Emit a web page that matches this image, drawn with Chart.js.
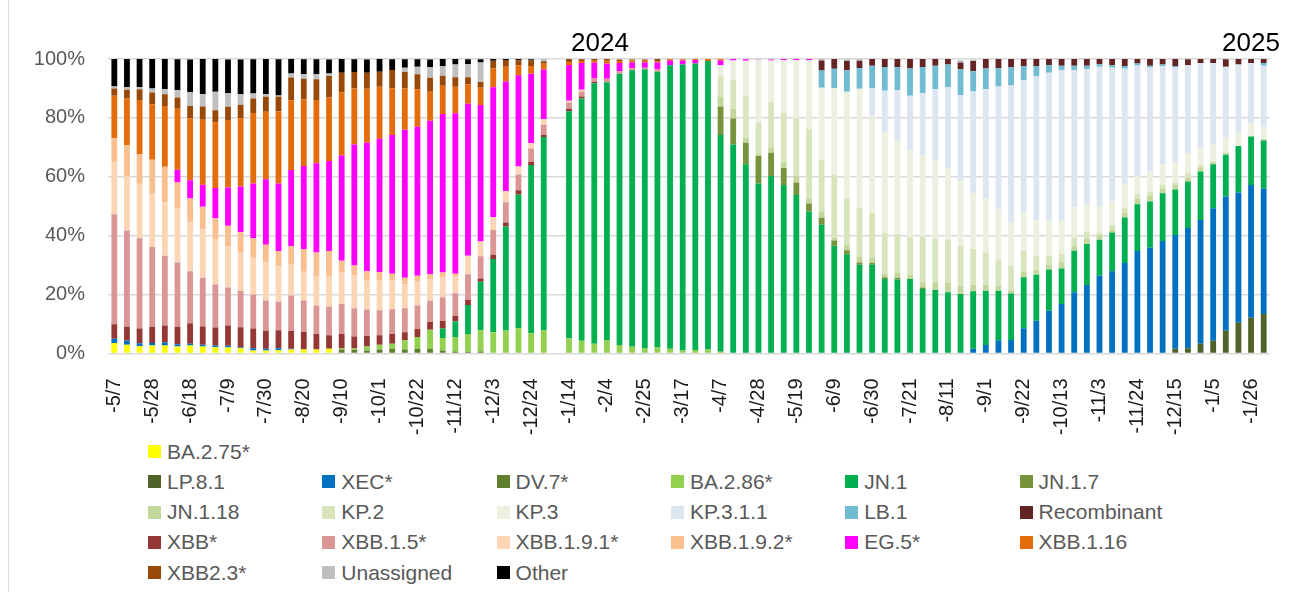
<!DOCTYPE html>
<html lang="en">
<head>
    <meta charset="UTF-8">
    <title>Variant proportions by week</title>
    <style>
        body {
            margin: 0;
            background: #fff;
            font-family: 'Liberation Sans', Arial, sans-serif;
        }

        .wrap {
            position: relative;
            width: 1293px;
            height: 592px;
            overflow: hidden;
        }

        #chart {
            position: absolute;
            left: 0;
            top: 0;
        }

        .frame {
            position: absolute;
            left: 8px;
            top: 0;
            height: 592px;
            border-left: 1px solid #d9d9d9;
        }

        .year {
            position: absolute;
            top: 27px;
            font-size: 26px;
            line-height: 30px;
            color: #000;
            transform: translateX(-50%);
        }

        .lg-box {
            position: absolute;
            width: 13px;
            height: 13px;
        }

        .lg-text {
            position: absolute;
            font-size: 21px;
            line-height: 24px;
            color: #595959;
            white-space: nowrap;
        }
    </style>
</head>
<body>
    <div class="wrap">
        <div class="frame"></div>
        <canvas id="chart" width="1293" height="440"></canvas>
        <div class="year" style="left:600px">2024</div>
        <div class="year" style="left:1251px">2025</div>
        <div id="legend"></div>
    </div>

    <script src="https://cdn.jsdelivr.net/npm/chart.js"></script>
    <script>
        // week starting dates, 5/7/2023 .. 2/2/2025 (1/7/2024 has no data)
        const weeks = [
            '-5/7', '-5/14', '-5/21', '-5/28', '-6/4', '-6/11', '-6/18', '-6/25', '-7/2', '-7/9',
            '-7/16', '-7/23', '-7/30', '-8/6', '-8/13', '-8/20', '-8/27', '-9/3', '-9/10', '-9/17',
            '-9/24', '-10/1', '-10/8', '-10/15', '-10/22', '-10/29', '-11/5', '-11/12', '-11/19', '-11/26',
            '-12/3', '-12/10', '-12/17', '-12/24', '-12/31', '-1/7', '-1/14', '-1/21', '-1/28', '-2/4',
            '-2/11', '-2/18', '-2/25', '-3/3', '-3/10', '-3/17', '-3/24', '-3/31', '-4/7', '-4/14',
            '-4/21', '-4/28', '-5/5', '-5/12', '-5/19', '-5/26', '-6/2', '-6/9', '-6/16', '-6/23',
            '-6/30', '-7/7', '-7/14', '-7/21', '-7/28', '-8/4', '-8/11', '-8/18', '-8/25', '-9/1',
            '-9/8', '-9/15', '-9/22', '-9/29', '-10/6', '-10/13', '-10/20', '-10/27', '-11/3', '-11/10',
            '-11/17', '-11/24', '-12/1', '-12/8', '-12/15', '-12/22', '-12/29', '-1/5', '-1/12', '-1/19',
            '-1/26', '-2/2'
        ];
        const tickEvery = 3;
        const yTicks = [0, 20, 40, 60, 80, 100];

        // share of sequences, percent
        const ba275 = [
            3.6, 3.0, 2.5, 2.7, 2.7, 2.4, 2.7, 2.4, 2.1, 2.0,
            1.8, 1.0, 1.0, 1.1, 1.4, 1.4, 1.4, 1.6, 0, 0,
            0, 0, 0, 0, 0, 0, 0, 0, 0, 0,
            0, 0, 0, 0, 0, null, 0, 0, 0, 0,
            0, 0, 0, 0, 0, 0, 0, 0, 0, 0,
            0, 0, 0, 0, 0, 0, 0, 0, 0, 0,
            0, 0, 0, 0, 0, 0, 0, 0, 0, 0,
            0, 0, 0, 0, 0, 0, 0, 0, 0, 0,
            0, 0, 0, 0, 0, 0, 0, 0, 0, 0,
            0, 0
        ];
        const lp81 = [
            0, 0, 0, 0, 0, 0, 0, 0, 0, 0,
            0, 0, 0, 0, 0, 0, 0, 0, 0, 0,
            0, 0, 0, 0, 0, 0, 0, 0, 0, 0,
            0, 0, 0, 0, 0, null, 0, 0, 0, 0,
            0, 0, 0, 0, 0, 0, 0, 0, 0, 0,
            0, 0, 0, 0, 0, 0, 0, 0, 0, 0,
            0, 0, 0, 0, 0, 0, 0, 0, 0, 0,
            0, 0, 0, 0, 0, 0, 0, 0, 0, 0,
            0, 0, 0, 0, 1.6, 1.8, 3.3, 4.3, 7.7, 10.4,
            12.1, 13.4
        ];
        const xec = [
            1.4, 1.4, 1.0, 0.9, 1.0, 0.7, 0.6, 0.6, 0.6, 0.6,
            0.3, 0.8, 0.6, 0.7, 0.2, 0, 0, 0, 0, 0,
            0, 0, 0, 0, 0, 0, 0, 0, 0, 0,
            0, 0, 0, 0, 0, null, 0, 0, 0, 0,
            0, 0, 0, 0, 0, 0, 0, 0, 0, 0,
            0, 0, 0, 0, 0, 0, 0, 0, 0, 0,
            0, 0, 0, 0, 0, 0, 0, 0, 1.6, 2.9,
            4.5, 4.6, 8.6, 11.1, 14.5, 16.8, 20.8, 23.3, 26.4, 27.9,
            30.7, 34.8, 35.9, 38.2, 38.6, 40.8, 42.0, 45.0, 45.6, 44.3,
            45.1, 42.6
        ];
        const dv7 = [
            0, 0, 0, 0, 0, 0, 0, 0, 0, 0,
            0, 0, 0, 0, 0, 0, 0, 0, 1.4, 1.2,
            1.0, 1.4, 1.5, 1.4, 1.5, 1.5, 1.0, 0.7, 0.6, 0.7,
            0, 0, 0, 0, 0, null, 0, 0, 0, 0,
            0, 0, 0, 0, 0, 0, 0, 0, 0, 0,
            0, 0, 0, 0, 0, 0, 0, 0, 0, 0,
            0, 0, 0, 0, 0, 0, 0, 0, 0, 0,
            0, 0, 0, 0, 0, 0, 0, 0, 0, 0,
            0, 0, 0, 0, 0, 0, 0, 0, 0, 0,
            0, 0
        ];
        const ba286 = [
            0, 0, 0, 0, 0, 0, 0, 0, 0, 0,
            0, 0, 0, 0, 0, 0, 0, 0, 0.5, 0.5,
            1.4, 1.6, 1.8, 3.1, 4.1, 6.6, 4.3, 4.9, 6.0, 7.2,
            7.2, 7.8, 8.6, 6.9, 7.9, null, 5.2, 4.3, 3.3, 4.5,
            2.9, 2.3, 1.9, 2.0, 1.6, 1.0, 1.2, 1.4, 0.6, 0,
            0, 0, 0, 0, 0, 0, 0, 0, 0, 0,
            0, 0, 0, 0, 0, 0, 0, 0, 0, 0,
            0, 0, 0, 0, 0, 0, 0, 0, 0, 0,
            0, 0, 0, 0, 0, 0, 0, 0, 0, 0,
            0, 0
        ];
        const jn1 = [
            0, 0, 0, 0, 0, 0, 0, 0, 0, 0,
            0, 0, 0, 0, 0, 0, 0, 0, 0, 0,
            0, 0, 0, 0, 0, 0, 3.2, 5.3, 9.9, 16.5,
            24.9, 35.3, 45.4, 57.1, 65.6, null, 77.1, 82.3, 88.5, 87.6,
            92.1, 93.9, 94.6, 93.7, 96.3, 97.1, 97.3, 97.9, 73.6, 71.0,
            64.3, 57.7, 60.3, 57.2, 53.8, 48.2, 43.7, 36.6, 33.7, 30.1,
            30.1, 25.3, 25.1, 25.3, 21.9, 21.6, 20.8, 20.2, 19.5, 18.4,
            16.8, 15.8, 17.3, 15.6, 14.0, 12.1, 14.1, 13.9, 12.2, 13.2,
            15.5, 15.9, 15.7, 16.2, 15.5, 15.8, 16.5, 15.0, 14.2, 15.8,
            16.5, 16.3
        ];
        const jn17 = [
            0, 0, 0, 0, 0, 0, 0, 0, 0, 0,
            0, 0, 0, 0, 0, 0, 0, 0, 0, 0,
            0, 0, 0, 0, 0, 0, 0, 0, 0, 0,
            0, 0, 0, 0, 0, null, 0, 0, 0, 0,
            0, 0, 0, 0, 0, 0, 0, 0, 9.7, 8.8,
            7.3, 9.4, 7.9, 5.8, 4.3, 2.7, 2.4, 1.8, 1.4, 0.8,
            0.6, 0.6, 0.5, 0, 0.5, 0, 0, 0, 0, 0,
            0, 0, 0, 0, 0, 0, 0, 0, 0, 0,
            0, 0, 0, 0, 0, 0, 0, 0, 0, 0,
            0, 0
        ];
        const jn118 = [
            0, 0, 0, 0, 0, 0, 0, 0, 0, 0,
            0, 0, 0, 0, 0, 0, 0, 0, 0, 0,
            0, 0, 0, 0, 0, 0, 0, 0, 0, 0,
            0, 0, 0, 0, 0, null, 0, 0, 0, 0,
            0, 0, 0, 0, 0, 0, 0, 0, 3.4, 3.2,
            1.6, 0.8, 1.6, 1.9, 2.3, 1.8, 2.1, 1.0, 1.9, 2.1,
            1.9, 1.2, 1.7, 1.5, 1.8, 2.3, 3.1, 2.8, 2.3, 2.0,
            1.7, 1.1, 2.0, 1.7, 1.6, 2.3, 1.7, 1.7, 1.6, 1.1,
            1.7, 1.9, 1.9, 1.7, 1.5, 1.4, 1.4, 0.8, 0.7, 0,
            0, 0.5
        ];
        const kp2 = [
            0, 0, 0, 0, 0, 0, 0, 0, 0, 0,
            0, 0, 0, 0, 0, 0, 0, 0, 0, 0,
            0, 0, 0, 0, 0, 0, 0, 0, 0, 0,
            0, 0, 0, 0, 0, null, 0, 0, 0, 0,
            0, 0, 0, 0, 0, 0, 0, 0, 6.8, 9.9,
            14.2, 10.5, 15.6, 16.7, 19.4, 23.6, 17.5, 21.4, 15.7, 16.6,
            15.1, 13.8, 13.2, 12.7, 15.5, 15.0, 14.8, 13.6, 12.1, 11.0,
            9.0, 8.2, 6.9, 4.6, 3.2, 2.6, 2.8, 2.5, 0.9, 1.5,
            1.7, 1.5, 1.4, 1.1, 0.9, 1.4, 0.9, 0, 0, 0,
            0, 0
        ];
        const kp3 = [
            0, 0, 0, 0, 0, 0, 0, 0, 0, 0,
            0, 0, 0, 0, 0, 0, 0, 0, 0, 0,
            0, 0, 0, 0, 0, 0, 0, 0, 0, 0,
            0, 0, 0, 0, 0, null, 0, 0, 0, 0,
            0, 0, 0, 0, 0, 0, 0, 0, 3.8, 6.6,
            12.0, 21.4, 14.1, 18.0, 19.8, 23.4, 24.5, 29.3, 36.2, 40.3,
            33.0, 34.4, 31.6, 29.6, 27.7, 26.6, 24.0, 21.8, 18.9, 18.3,
            16.9, 14.7, 13.1, 12.3, 11.9, 11.3, 10.2, 9.4, 8.7, 7.8,
            7.9, 6.2, 6.9, 7.1, 6.8, 6.9, 5.9, 5.8, 5.1, 4.7,
            4.4, 4.2
        ];
        const kp311 = [
            0, 0, 0, 0, 0, 0, 0, 0, 0, 0,
            0, 0, 0, 0, 0, 0, 0, 0, 0, 0,
            0, 0, 0, 0, 0, 0, 0, 0, 0, 0,
            0, 0, 0, 0, 0, null, 0, 0, 0, 0,
            0, 0, 0, 0, 0, 0, 0, 0, 0, 0,
            0, 0, 0, 0, 0, 0, 0, 0, 0, 0,
            9.4, 13.9, 17.3, 18.4, 21.0, 24.3, 27.7, 29.4, 34.6, 37.1,
            41.8, 46.6, 45.0, 48.9, 50.1, 51.2, 46.7, 45.8, 47.6, 45.5,
            39.2, 37.5, 35.3, 33.3, 32.2, 29.8, 28.6, 27.7, 24.1, 22.9,
            20.5, 20.7
        ];
        const lb1 = [
            0, 0, 0, 0, 0, 0, 0, 0, 0, 0,
            0, 0, 0, 0, 0, 0, 0, 0, 0, 0,
            0, 0, 0, 0, 0, 0, 0, 0, 0, 0,
            0, 0, 0, 0, 0, null, 0, 0, 0, 0,
            0, 0, 0, 0, 0, 0, 0, 0, 0, 0,
            0, 0, 0, 0, 0, 0, 5.9, 6.6, 7.3, 7.0,
            7.6, 8.1, 7.8, 9.3, 8.9, 7.9, 7.7, 8.7, 6.8, 7.1,
            6.2, 6.2, 4.7, 3.4, 2.7, 1.4, 1.4, 1.1, 0.8, 0.9,
            0.9, 0.7, 0.6, 0.5, 0.5, 0, 0, 0, 0, 0,
            0, 0.9
        ];
        const recombinant = [
            0, 0, 0, 0, 0, 0, 0, 0, 0, 0,
            0, 0, 0, 0, 0, 0, 0, 0, 0, 0,
            0, 0, 0, 0, 0, 0, 0, 0, 0, 0,
            0, 0, 0, 0, 0, null, 0, 0, 0, 0,
            0, 0, 0, 0, 0, 0, 0, 0, 0, 0,
            0, 0, 0, 0, 0, 0, 3.4, 3.3, 3.1, 2.5,
            2.3, 2.7, 2.8, 3.2, 2.7, 2.3, 1.9, 2.3, 3.5, 3.2,
            3.1, 2.8, 2.4, 2.4, 2.0, 2.3, 2.3, 2.3, 1.8, 2.1,
            2.4, 1.5, 2.3, 1.9, 2.4, 2.0, 1.4, 1.4, 2.5, 1.9,
            1.4, 1.4
        ];
        const xbb = [
            4.9, 4.7, 5.0, 5.5, 5.8, 5.9, 7.0, 6.2, 6.1, 6.9,
            6.8, 6.7, 6.1, 6.1, 6.0, 5.9, 5.2, 4.6, 4.7, 4.1,
            3.5, 3.2, 3.3, 2.7, 2.7, 2.6, 2.5, 1.8, 1.7, 1.1,
            1.4, 1.4, 1.4, 1.1, 0.8, null, 0.8, 0.7, 0.4, 0,
            0, 0, 0, 0, 0, 0, 0, 0, 0, 0,
            0, 0, 0, 0, 0, 0, 0, 0, 0, 0,
            0, 0, 0, 0, 0, 0, 0, 0, 0, 0,
            0, 0, 0, 0, 0, 0, 0, 0, 0, 0,
            0, 0, 0, 0, 0, 0, 0, 0, 0, 0,
            0, 0
        ];
        const xbb15 = [
            37.4, 32.7, 30.6, 27.1, 23.7, 21.9, 17.6, 16.5, 14.6, 12.9,
            12.4, 11.5, 10.3, 9.7, 12.1, 10.7, 9.7, 9.7, 10.2, 9.6,
            9.0, 8.5, 8.4, 8.2, 8.0, 7.2, 8.1, 7.8, 8.7, 7.5,
            8.4, 6.9, 5.4, 4.5, 3.4, null, 2.1, 1.7, 1.2, 1.2,
            0.8, 0.7, 0.5, 0.8, 0, 0, 0, 0, 0, 0,
            0, 0, 0, 0, 0, 0, 0, 0, 0, 0,
            0, 0, 0, 0, 0, 0, 0, 0, 0, 0,
            0, 0, 0, 0, 0, 0, 0, 0, 0, 0,
            0, 0, 0, 0, 0, 0, 0, 0, 0, 0,
            0, 0
        ];
        const xbb191 = [
            17.6, 18.5, 18.5, 18.3, 18.1, 18.3, 16.6, 16.5, 15.5, 13.9,
            12.9, 12.5, 12.9, 12.0, 10.5, 9.8, 9.8, 10.2, 10.7, 11.1,
            9.8, 10.2, 9.8, 8.0, 8.1, 7.2, 6.8, 5.8, 6.1, 5.0,
            4.4, 3.7, 2.7, 1.8, 1.8, null, 0.6, 0.6, 0, 0,
            0, 0, 0, 0, 0, 0, 0, 0, 0, 0,
            0, 0, 0, 0, 0, 0, 0, 0, 0, 0,
            0, 0, 0, 0, 0, 0, 0, 0, 0, 0,
            0, 0, 0, 0, 0, 0, 0, 0, 0, 0,
            0, 0, 0, 0, 0, 0, 0, 0, 0, 0,
            0, 0
        ];
        const xbb192 = [
            8.2, 10.5, 10.1, 11.3, 12.1, 8.9, 8.1, 7.6, 7.0, 7.1,
            7.0, 6.6, 6.0, 5.2, 6.2, 7.7, 8.2, 8.7, 4.0, 3.4,
            3.2, 2.8, 2.3, 2.3, 2.0, 1.9, 1.6, 0.8, 0.2, 0,
            0, 0, 0, 0, 0, null, 0, 0, 0, 0,
            0, 0, 0, 0, 0, 0, 0, 0, 0, 0,
            0, 0, 0, 0, 0, 0, 0, 0, 0, 0,
            0, 0, 0, 0, 0, 0, 0, 0, 0, 0,
            0, 0, 0, 0, 0, 0, 0, 0, 0, 0,
            0, 0, 0, 0, 0, 0, 0, 0, 0, 0,
            0, 0
        ];
        const eg5 = [
            0, 0, 0, 0, 0, 4.3, 6.2, 7.5, 10.3, 13.0,
            15.5, 18.6, 22.3, 22.9, 25.9, 28.2, 30.3, 30.6, 35.7, 41.1,
            43.7, 45.2, 47.1, 50.3, 50.6, 52.0, 53.8, 54.5, 51.6, 46.4,
            44.1, 37.3, 31.0, 23.6, 16.9, null, 12.2, 9.0, 5.3, 5.1,
            2.8, 1.9, 1.8, 2.3, 1.6, 1.4, 1.2, 0, 1.6, 0.5,
            0.5, 0.2, 0.3, 0.4, 0.4, 0.3, 0, 0, 0, 0,
            0, 0, 0, 0, 0, 0, 0, 0, 0, 0,
            0, 0, 0, 0, 0, 0, 0, 0, 0, 0,
            0, 0, 0, 0, 0, 0, 0, 0, 0, 0,
            0, 0
        ];
        const xbb116 = [
            14.4, 15.8, 18.4, 18.8, 20.6, 20.7, 21.1, 22.1, 22.3, 22.9,
            23.2, 24.0, 22.9, 24.6, 23.7, 22.6, 21.5, 21.5, 21.5, 19.0,
            18.3, 17.7, 15.9, 14.0, 12.7, 9.9, 9.6, 9.0, 6.6, 5.8,
            6.4, 5.0, 3.4, 2.6, 2.0, null, 1.0, 0.7, 0.7, 1.0,
            0.7, 0.7, 0.6, 0.3, 0.5, 0.4, 0.3, 0.7, 0.5, 0,
            0, 0, 0, 0, 0, 0, 0, 0, 0, 0,
            0, 0, 0, 0, 0, 0, 0, 0, 0, 0,
            0, 0, 0, 0, 0, 0, 0, 0, 0, 0,
            0, 0, 0, 0, 0, 0, 0, 0, 0, 0,
            0, 0
        ];
        const xbb23 = [
            2.5, 3.0, 3.6, 4.0, 4.0, 3.8, 4.1, 4.5, 4.1, 4.5,
            4.6, 4.9, 5.1, 5.0, 7.7, 7.0, 7.0, 7.3, 6.6, 5.6,
            5.4, 5.1, 6.2, 5.6, 5.1, 4.7, 3.4, 3.2, 2.4, 2.0,
            2.6, 2.3, 1.7, 1.9, 0.8, null, 1.0, 0.6, 0.6, 0.6,
            0.5, 0.3, 0.4, 0.9, 0, 0, 0, 0, 0, 0,
            0, 0, 0, 0, 0, 0, 0, 0, 0, 0,
            0, 0, 0, 0, 0, 0, 0, 0, 0, 0,
            0, 0, 0, 0, 0, 0, 0, 0, 0, 0,
            0, 0, 0, 0, 0, 0, 0, 0, 0, 0,
            0, 0
        ];
        const unassigned = [
            0.7, 0.8, 0.8, 1.4, 1.8, 2.5, 4.7, 4.2, 6.3, 4.6,
            3.5, 1.7, 0.8, 0.3, 1.4, 1.5, 1.7, 0.9, 0, 0,
            0, 0, 0, 1.4, 2.6, 3.7, 3.2, 4.3, 4.4, 6.6,
            0, 0, 0, 0, 0.8, null, 0, 0, 0, 0,
            0, 0, 0, 0, 0, 0, 0, 0, 0, 0,
            0, 0, 0, 0, 0, 0, 0.5, 0, 0.7, 0.6,
            0, 0, 0, 0, 0, 0, 0, 0.8, 0.5, 0,
            0, 0, 0, 0, 0, 0, 0, 0, 0, 0,
            0, 0, 0, 0, 0, 0, 0, 0, 0, 0,
            0, 0
        ];
        const other = [
            9.3, 9.6, 9.5, 10.0, 10.2, 10.5, 11.1, 11.9, 11.1, 11.4,
            11.8, 11.6, 12.0, 12.3, 4.9, 5.1, 5.1, 4.7, 4.7, 4.3,
            4.5, 4.3, 3.6, 2.9, 2.5, 2.5, 2.5, 1.9, 1.7, 1.1,
            0.6, 0.4, 0.4, 0.4, 0, null, 0, 0, 0, 0,
            0, 0, 0, 0, 0, 0, 0, 0, 0, 0,
            0, 0, 0, 0, 0, 0, 0, 0, 0, 0,
            0, 0, 0, 0, 0, 0, 0, 0, 0, 0,
            0, 0, 0, 0, 0, 0, 0, 0, 0, 0,
            0, 0, 0, 0, 0, 0, 0, 0, 0, 0,
            0, 0
        ];

        // stack order, bottom to top (also legend order)
        const names = ['BA.2.75*', 'LP.8.1', 'XEC*', 'DV.7*', 'BA.2.86*', 'JN.1', 'JN.1.7',
            'JN.1.18', 'KP.2', 'KP.3', 'KP.3.1.1', 'LB.1', 'Recombinant', 'XBB*', 'XBB.1.5*',
            'XBB.1.9.1*', 'XBB.1.9.2*', 'EG.5*', 'XBB.1.16', 'XBB2.3*', 'Unassigned', 'Other'];
        const colors = ['#ffff00', '#4f6228', '#0070c0', '#5f7f2f', '#92d050', '#00b050', '#77933c',
            '#c4d79b', '#d8e4bc', '#ebf1de', '#dce6f1', '#71bcd2', '#632523', '#953735', '#da9694',
            '#fcd5b4', '#fabf8f', '#ff00ff', '#e46c0a', '#984807', '#bfbfbf', '#000000'];
        const series = [ba275, lp81, xec, dv7, ba286, jn1, jn17, jn118, kp2, kp3, kp311, lb1,
            recombinant, xbb, xbb15, xbb191, xbb192, eg5, xbb116, xbb23, unassigned, other];

        Chart.defaults.font.family = "'Liberation Sans', Arial, sans-serif";

        const ctx = document.getElementById('chart').getContext('2d');
        const chart = new Chart(ctx, {
            type: 'bar',
            data: {
                labels: weeks,
                datasets: names.map((name, i) => ({
                    label: name,
                    data: series[i],
                    backgroundColor: colors[i],
                    borderWidth: 0,
                    categoryPercentage: 1,
                    barPercentage: 0.46
                }))
            },
            options: {
                responsive: false,
                animation: false,
                devicePixelRatio: 1,
                layout: { padding: { left: 0, right: 23, top: 59, bottom: 0 } },
                plugins: {
                    legend: { display: false },
                    tooltip: { enabled: false }
                },
                scales: {
                    x: {
                        stacked: true,
                        grid: { display: false },
                        border: { display: false },
                        ticks: {
                            autoSkip: false,
                            minRotation: 90,
                            maxRotation: 90,
                            padding: 17,
                            color: '#1a1a1a',
                            font: { size: 20 },
                            callback: function (value, index) {
                                return index % tickEvery === 0 ? this.getLabelForValue(value) : '';
                            }
                        },
                        afterFit: scale => {
                            scale.height = 86.5;
                            // keep the plot edges where the layout padding puts them
                            scale.paddingLeft = 0;
                            scale.paddingRight = 0;
                        }
                    },
                    y: {
                        stacked: true,
                        min: yTicks[0],
                        max: yTicks[yTicks.length - 1],
                        grid: { color: '#d9d9d9', lineWidth: 1.5, drawTicks: false },
                        border: { display: false },
                        ticks: {
                            stepSize: 20,
                            padding: 23,
                            color: '#595959',
                            font: { size: 20 },
                            callback: v => v + '%'
                        },
                        afterFit: scale => { scale.width = 108; }
                    }
                }
            }
        });

        // Legend: first entry on its own row, then six per row
        const legend = document.getElementById('legend');
        names.forEach((name, i) => {
            const row = i === 0 ? 0 : 1 + Math.floor((i - 1) / 6);
            const col = i === 0 ? 0 : (i - 1) % 6;
            const x = 148 + col * 174.3;
            const cy = 451.7 + row * 30.2;

            const box = document.createElement('div');
            box.className = 'lg-box';
            box.style.left = x + 'px';
            box.style.top = (cy - 6.5) + 'px';
            box.style.background = colors[i];
            legend.appendChild(box);

            const text = document.createElement('div');
            text.className = 'lg-text';
            text.style.left = (x + 19) + 'px';
            text.style.top = (cy - 12) + 'px';
            text.textContent = name;
            legend.appendChild(text);
        });
    </script>
</body>
</html>
